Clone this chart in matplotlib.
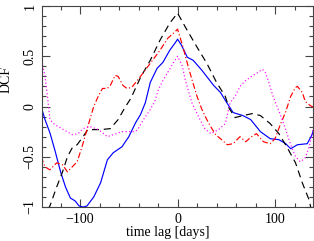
import numpy as np
import matplotlib.pyplot as plt
from matplotlib.ticker import MultipleLocator

# curves (time lag in days, DCF)
blue_lag = [-140, -136, -131, -126, -120, -115, -110, -105, -101, -97, -93, -86, -79,
            -72, -66, -57, -50, -43, -38, -33, -28, -21, -15, -8, -2, 0, 4, 10, 16,
            25, 37, 44, 51, 57, 67, 75, 85, 95, 104, 111, 116, 123, 133, 138, 140]
blue_dcf = [0.0, -0.13, -0.26, -0.43, -0.65, -0.80, -0.91, -0.94, -0.99, -1.0, -0.99,
            -0.90, -0.76, -0.53, -0.46, -0.40, -0.30, -0.16, -0.08, 0.04, 0.24, 0.38,
            0.44, 0.56, 0.64, 0.67, 0.61, 0.49, 0.46, 0.36, 0.21, 0.14, 0.03, -0.06,
            -0.09, -0.13, -0.25, -0.32, -0.33, -0.37, -0.42, -0.38, -0.37, -0.28, -0.22]

black_lag = [-133, -131, -124, -118, -113, -108, -103, -97, -92, -79, -69, -61, -54,
             -48, -38, -28, -18, -8, 0, 8, 20, 30, 40, 49, 53, 59, 67, 77, 85, 95,
             104, 112, 121, 128, 135, 137]
black_dcf = [-1.02, -0.99, -0.80, -0.65, -0.50, -0.41, -0.38, -0.30, -0.23, -0.23,
             -0.22, -0.13, -0.01, 0.08, 0.29, 0.46, 0.66, 0.83, 0.93, 0.79, 0.59,
             0.43, 0.24, 0.10, -0.02, -0.11, -0.09, -0.07, -0.09, -0.17, -0.27,
             -0.40, -0.56, -0.76, -0.93, -1.02]

red_lag = [-140, -136, -131, -124, -118, -113, -108, -103, -98, -93, -90, -86, -81,
           -77, -72, -69, -64, -61, -56, -52, -47, -38, -28, -18, -10, -3, 0, 5, 10,
           15, 20, 25, 30, 34, 39, 44, 51, 57, 64, 70, 76, 81, 88, 95, 100, 105, 111,
           116, 121, 123, 128, 131, 136, 140]
red_dcf = [-0.50, -0.60, -0.63, -0.56, -0.58, -0.65, -0.60, -0.55, -0.40, -0.23,
           -0.13, 0.0, 0.11, 0.18, 0.18, 0.21, 0.31, 0.30, 0.21, 0.18, 0.19, 0.30,
           0.43, 0.56, 0.68, 0.74, 0.77, 0.61, 0.43, 0.26, 0.10, -0.03, -0.13, -0.20,
           -0.28, -0.32, -0.38, -0.37, -0.30, -0.35, -0.30, -0.27, -0.35, -0.37,
           -0.32, -0.19, -0.05, 0.10, 0.19, 0.20, 0.14, 0.05, 0.01, -0.01]

mag_lag = [-140, -136, -133, -131, -126, -117, -108, -102, -97, -90, -81, -72, -66,
           -57, -51, -44, -41, -35, -28, -23, -20, -15, -10, -4, 0, 5, 8, 11, 15, 18,
           23, 28, 34, 42, 49, 54, 59, 64, 70, 76, 81, 87, 90, 93, 97, 100, 105, 111,
           116, 121, 126, 131, 135, 140]
mag_dcf = [0.48, 0.30, 0.06, -0.13, -0.18, -0.23, -0.28, -0.27, -0.22, -0.20, -0.23,
           -0.30, -0.28, -0.25, -0.25, -0.25, -0.23, -0.13, -0.03, 0.06, 0.16, 0.26,
           0.34, 0.44, 0.50, 0.40, 0.26, 0.16, 0.03, -0.03, -0.13, -0.22, -0.27,
           -0.23, -0.17, 0.04, 0.10, 0.20, 0.26, 0.30, 0.33, 0.37, 0.34, 0.26, 0.13,
           0.05, -0.07, -0.23, -0.38, -0.50, -0.55, -0.51, -0.40, -0.18]

plt.rcParams["font.family"] = ["Liberation Serif", "DejaVu Serif"]
plt.rcParams["font.size"] = 10


def minus_fmt(v, pos):
    return "%g" % v if v >= 0 else "\u2212%g" % -v


fig = plt.figure(figsize=(3.14, 2.41), dpi=100)
ax = fig.add_axes([0.134, 0.141, 0.863, 0.834])

ax.plot(blue_lag, blue_dcf, color="#0000ff", lw=0.85, ls="-")
ax.plot(black_lag, black_dcf, color="black", lw=0.85, ls=(0, (6, 4)))
ax.plot(red_lag, red_dcf, color="#ff0000", lw=0.85, ls=(0, (5, 2, 1, 2)))
ax.plot(mag_lag, mag_dcf, color="#ff00ff", lw=0.85, ls=(0, (1, 2)))

ax.set_xlim(-139, 139)
ax.set_ylim(-1, 1)
ax.xaxis.set_major_locator(MultipleLocator(100))
ax.xaxis.set_minor_locator(MultipleLocator(20))
ax.yaxis.set_major_locator(MultipleLocator(0.5))
ax.yaxis.set_minor_locator(MultipleLocator(0.1))
ax.xaxis.set_major_formatter(plt.FuncFormatter(minus_fmt))
ax.yaxis.set_major_formatter(plt.FuncFormatter(minus_fmt))
ax.tick_params(which="both", direction="in", top=True, right=True, color="#444444")
ax.tick_params(which="major", length=6, width=0.8, pad=4)
ax.tick_params(which="minor", length=3, width=0.8)
for lbl in ax.get_yticklabels():
    lbl.set_rotation(90)
    lbl.set_va("center")
for s in ax.spines.values():
    s.set_color("#444444")
    s.set_linewidth(0.8)

ax.set_xlabel("time lag [days]")
ax.set_ylabel("DCF")
ax.xaxis.label.set_va("center")
ax.yaxis.label.set_va("center")
ax.xaxis.set_label_coords(0.465, -0.129)
ax.yaxis.set_label_coords(-0.133, 0.632)

fig.savefig("out.png", dpi=100)
